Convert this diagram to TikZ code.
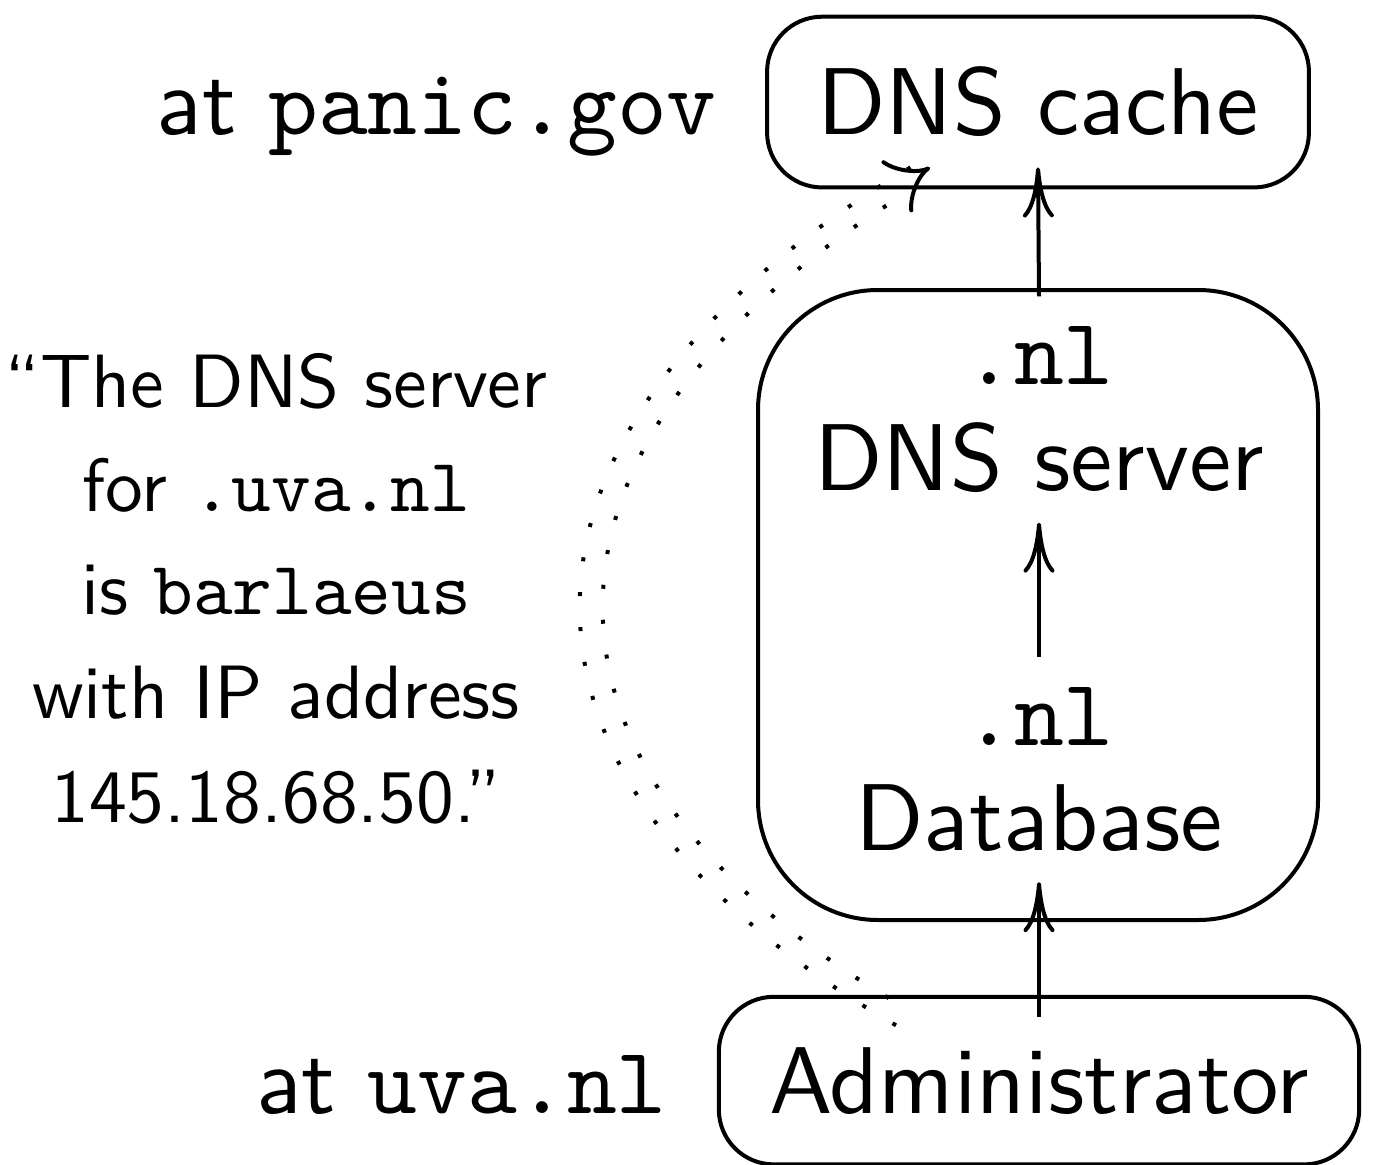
\documentclass[tikz,border=0pt]{standalone}
\usepackage{fontspec}
\setsansfont{lmsans10-regular.otf}
\setmonofont{lmmono10-regular.otf}
\usetikzlibrary{arrows.meta,fit}

\newcommand{\boxfont}{\fontsize{54}{60}\selectfont\sffamily}
\newcommand{\quotefont}{\fontsize{43}{59}\selectfont\sffamily}

\begin{document}
\begin{tikzpicture}[
    lbl/.style={font=\boxfont, inner sep=0.6cm, align=center},
    boxframe/.style={draw, line width=0.08cm, rounded corners=1.1cm, inner xsep=0.4cm, inner ysep=0.4cm},
    arr/.style={line width=0.08cm, -{Computer Modern Rightarrow[length=1cm,width=0.62cm]}},
    dotline/.style={line width=0.08cm, dash pattern=on 0.08cm off 0.62cm},
    claimtip/.style={double, double distance=0.34cm, line width=0.08cm, dash pattern=on 0pt off 100cm, -{Implies}}
]
\useasboundingbox (0,0) rectangle (27.48,-23.3);

% the chain of servers
\node[lbl, anchor=base] (cache) at (20.76,-2.70) {DNS cache};
\node[lbl] (nlsrv) at (20.78,-8.19) {\texttt{.nl}\\DNS server};
\node[lbl] (nldb) at (20.78,-15.39) {\texttt{.nl}\\Database};
\node[lbl, anchor=base] (admin) at (20.78,-22.26) {Administrator};

\node[boxframe, fit=(cache)] (cacheframe) {};
\node[boxframe, fit=(admin)] (adminframe) {};
\node[draw, line width=0.08cm, rounded corners=2.4cm, minimum width=11.2cm,
      minimum height=12.6cm, inner sep=0] (nlframe) at (20.76,-12.1) {};

% where they live
\node[font=\boxfont, anchor=base east, inner sep=0] (panic) at (14.34,-2.70) {at \texttt{panic.gov}};
\node[font=\boxfont, anchor=base east, inner sep=0] (uva) at (13.34,-22.26) {at \texttt{uva.nl}};

% what the cache ends up believing
\node[font=\quotefont, align=center, inner sep=0] (quote) at (5.52,-11.77)
    {“The DNS server\\for \texttt{.uva.nl}\\is \texttt{barlaeus}\\with IP address\\145.18.68.50.”};

\draw[arr] (admin.north) -- (nldb.south);
\draw[arr] (nldb.north) -- (nlsrv.south);
\draw[arr] (nlsrv.north) -- (cache.south);

% dotted double arrow: outer and inner rail, then the tip
\draw[dotline] ([xshift=-2.86cm,yshift=-0.17cm]admin.north) to[out=150,in=210,looseness=1.5] ([xshift=-2.26cm,yshift=0.17cm]cache.south);
\draw[dotline, dash phase=0.3cm] ([xshift=-2.66cm,yshift=0.17cm]admin.north) to[out=150,in=210,looseness=1.5] ([xshift=-2.06cm,yshift=-0.17cm]cache.south);
\draw[claimtip] ([xshift=-2.76cm]admin.north) to[out=150,in=210,looseness=1.5] ([xshift=-2.16cm]cache.south);
\end{tikzpicture}
\end{document}
